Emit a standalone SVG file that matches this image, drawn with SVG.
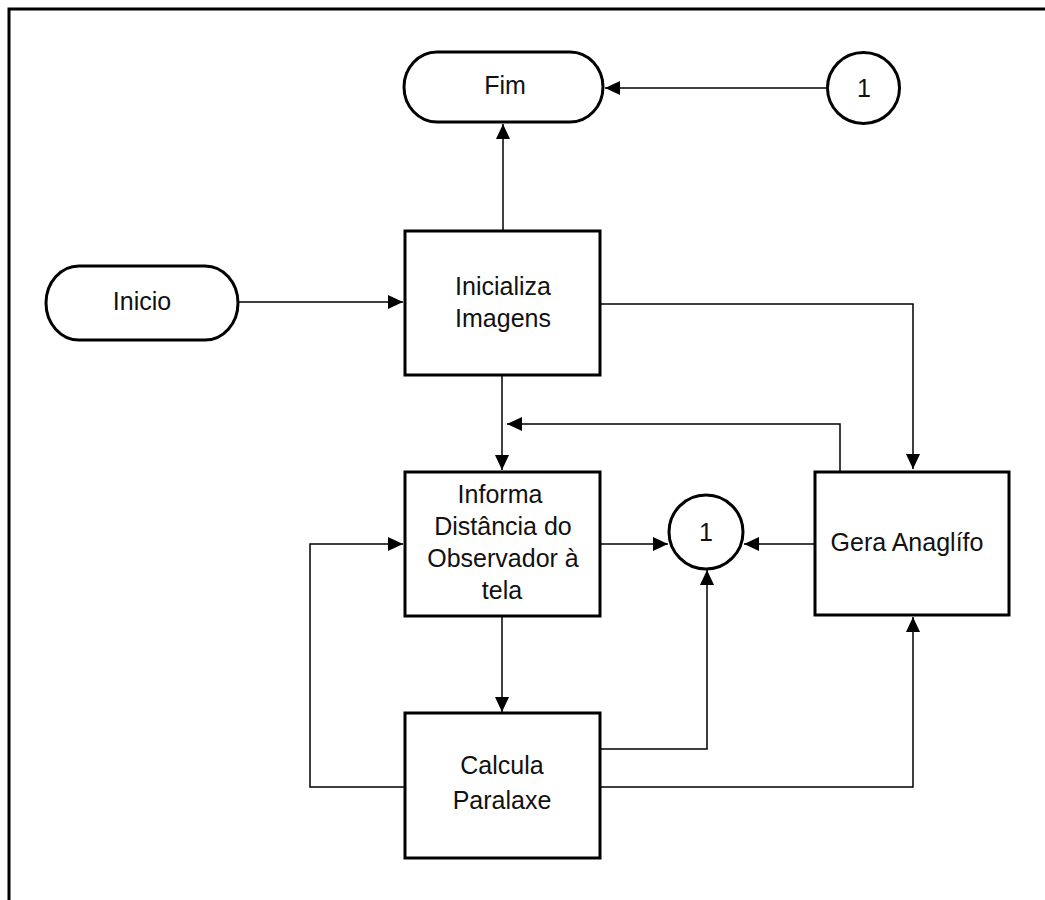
<svg xmlns="http://www.w3.org/2000/svg" width="1045" height="900" viewBox="0 0 1045 900">
<style>
.box{fill:#fff;stroke:#000;stroke-width:3}
.term{fill:#fff;stroke:#000;stroke-width:3}
.con{fill:none;stroke:#000;stroke-width:1.5}
.t{font-family:"Liberation Sans",Arial,sans-serif;font-size:25px;fill:#111;text-anchor:middle}
</style>
<defs>
<marker id="ah" markerUnits="userSpaceOnUse" markerWidth="16" markerHeight="14" refX="15" refY="7" orient="auto">
<path d="M0,0 L15,7 L0,14 z" fill="#000"/>
</marker>
</defs>
<rect x="0" y="0" width="1045" height="900" fill="#fff"/>
<path d="M9,900 V9 H1045" fill="none" stroke="#000" stroke-width="3"/>
<g id="connectors">
<path class="con" d="M238,302 H403" marker-end="url(#ah)"/>
<path class="con" d="M503,230 V124" marker-end="url(#ah)"/>
<path class="con" d="M827,88 H605" marker-end="url(#ah)"/>
<path class="con" d="M601,304 H913 V469" marker-end="url(#ah)"/>
<path class="con" d="M502,376 V470" marker-end="url(#ah)"/>
<path class="con" d="M840,471 V424 H507" marker-end="url(#ah)"/>
<path class="con" d="M601,544 H668" marker-end="url(#ah)"/>
<path class="con" d="M815,544 H744" marker-end="url(#ah)"/>
<path class="con" d="M502,617 V712" marker-end="url(#ah)"/>
<path class="con" d="M601,749 H707 V570" marker-end="url(#ah)"/>
<path class="con" d="M601,787 H913 V617" marker-end="url(#ah)"/>
<path class="con" d="M405,787 H310 V544 H403" marker-end="url(#ah)"/>
</g>
<g id="fim">
<rect class="term" x="404" y="52" width="199" height="70" rx="33" ry="35"/>
<text class="t" x="505" y="94">Fim</text>
</g>
<g id="conector1-topo">
<ellipse class="box" cx="863.5" cy="88" rx="36" ry="35.5"/>
<text class="t" x="864" y="97">1</text>
</g>
<g id="inicio">
<rect class="term" x="46" y="266" width="192" height="74" rx="33" ry="37"/>
<text class="t" x="142" y="310">Inicio</text>
</g>
<g id="inicializa">
<rect class="box" x="405" y="231" width="195" height="144"/>
<text class="t" x="503" y="295">Inicializa</text>
<text class="t" x="503" y="327">Imagens</text>
</g>
<g id="informa">
<rect class="box" x="405" y="472" width="195" height="144"/>
<text class="t" x="500" y="503">Informa</text>
<text class="t" x="503" y="535">Distância do</text>
<text class="t" x="503" y="567">Observador à</text>
<text class="t" x="502" y="599">tela</text>
</g>
<g id="conector1-meio">
<circle class="box" cx="706" cy="532" r="37"/>
<text class="t" x="706" y="541">1</text>
</g>
<g id="gera">
<rect class="box" x="815" y="472" width="194" height="143"/>
<text class="t" x="907" y="551">Gera Anaglífo</text>
</g>
<g id="calcula">
<rect class="box" x="405" y="713" width="195" height="145"/>
<text class="t" x="502" y="774">Calcula</text>
<text class="t" x="502" y="809">Paralaxe</text>
</g>
</svg>
